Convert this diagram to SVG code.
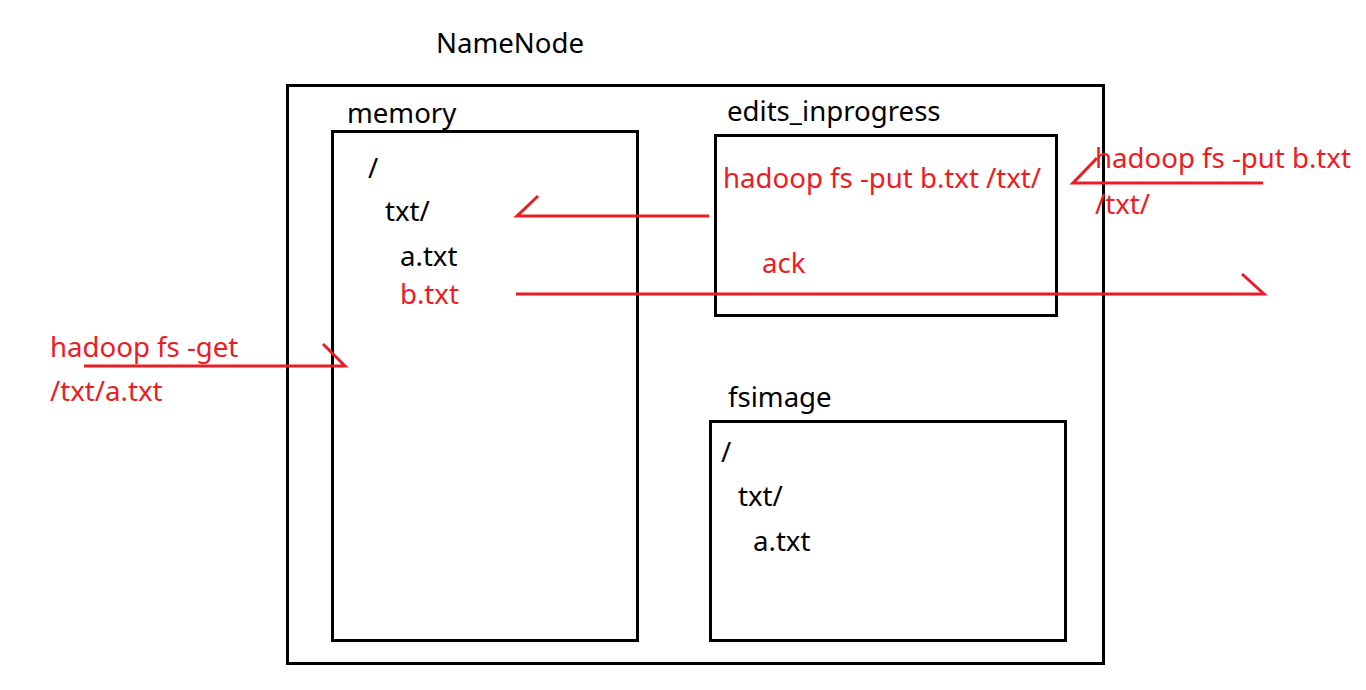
<svg xmlns="http://www.w3.org/2000/svg" width="1366" height="690" viewBox="0 0 1366 690">
<style>
text{font-family:"Noto Sans","Open Sans","Liberation Sans",sans-serif;font-size:27.6px;fill:#000}
.r{fill:#ED1C24}
.box{fill:none;stroke:#000;stroke-width:3}
.ln{fill:none;stroke:#ED1C24;stroke-width:3}
</style>
<rect width="1366" height="690" fill="#fff"/>
<g id="namenode">
<text x="436" y="53">NameNode</text>
<rect class="box" x="287.5" y="85.5" width="816" height="578"/>
</g>
<g id="memory">
<text x="347" y="123">memory</text>
<rect class="box" x="332.5" y="131.5" width="305" height="509"/>
<text x="368" y="178">/</text>
<text x="385" y="221">txt/</text>
<text x="400" y="266">a.txt</text>
<text class="r" x="400" y="304">b.txt</text>
</g>
<g id="edits">
<text x="727" y="121">edits_inprogress</text>
<rect class="box" x="715.5" y="135.5" width="341" height="180"/>
<text class="r" x="723" y="188">hadoop fs -put b.txt /txt/</text>
<text class="r" x="762" y="273">ack</text>
</g>
<g id="fsimage">
<text x="728" y="407">fsimage</text>
<rect class="box" x="710.5" y="421.5" width="355" height="219"/>
<text x="721" y="462">/</text>
<text x="738" y="506">txt/</text>
<text x="753" y="551">a.txt</text>
</g>
<g id="client-put">
<text class="r" x="1095" y="168">hadoop fs -put b.txt</text>
<text class="r" x="1095" y="214">/txt/</text>
</g>
<g id="client-get">
<text class="r" x="50" y="357">hadoop fs -get</text>
<text class="r" x="50" y="401">/txt/a.txt</text>
</g>
<g id="connectors">
<path class="ln" d="M709 216H517L538 196"/>
<path class="ln" d="M1263 183H1073L1097 158"/>
<path class="ln" d="M516 294H1264L1242 274"/>
<path class="ln" d="M84 366H345L323 344"/>
</g>
</svg>
